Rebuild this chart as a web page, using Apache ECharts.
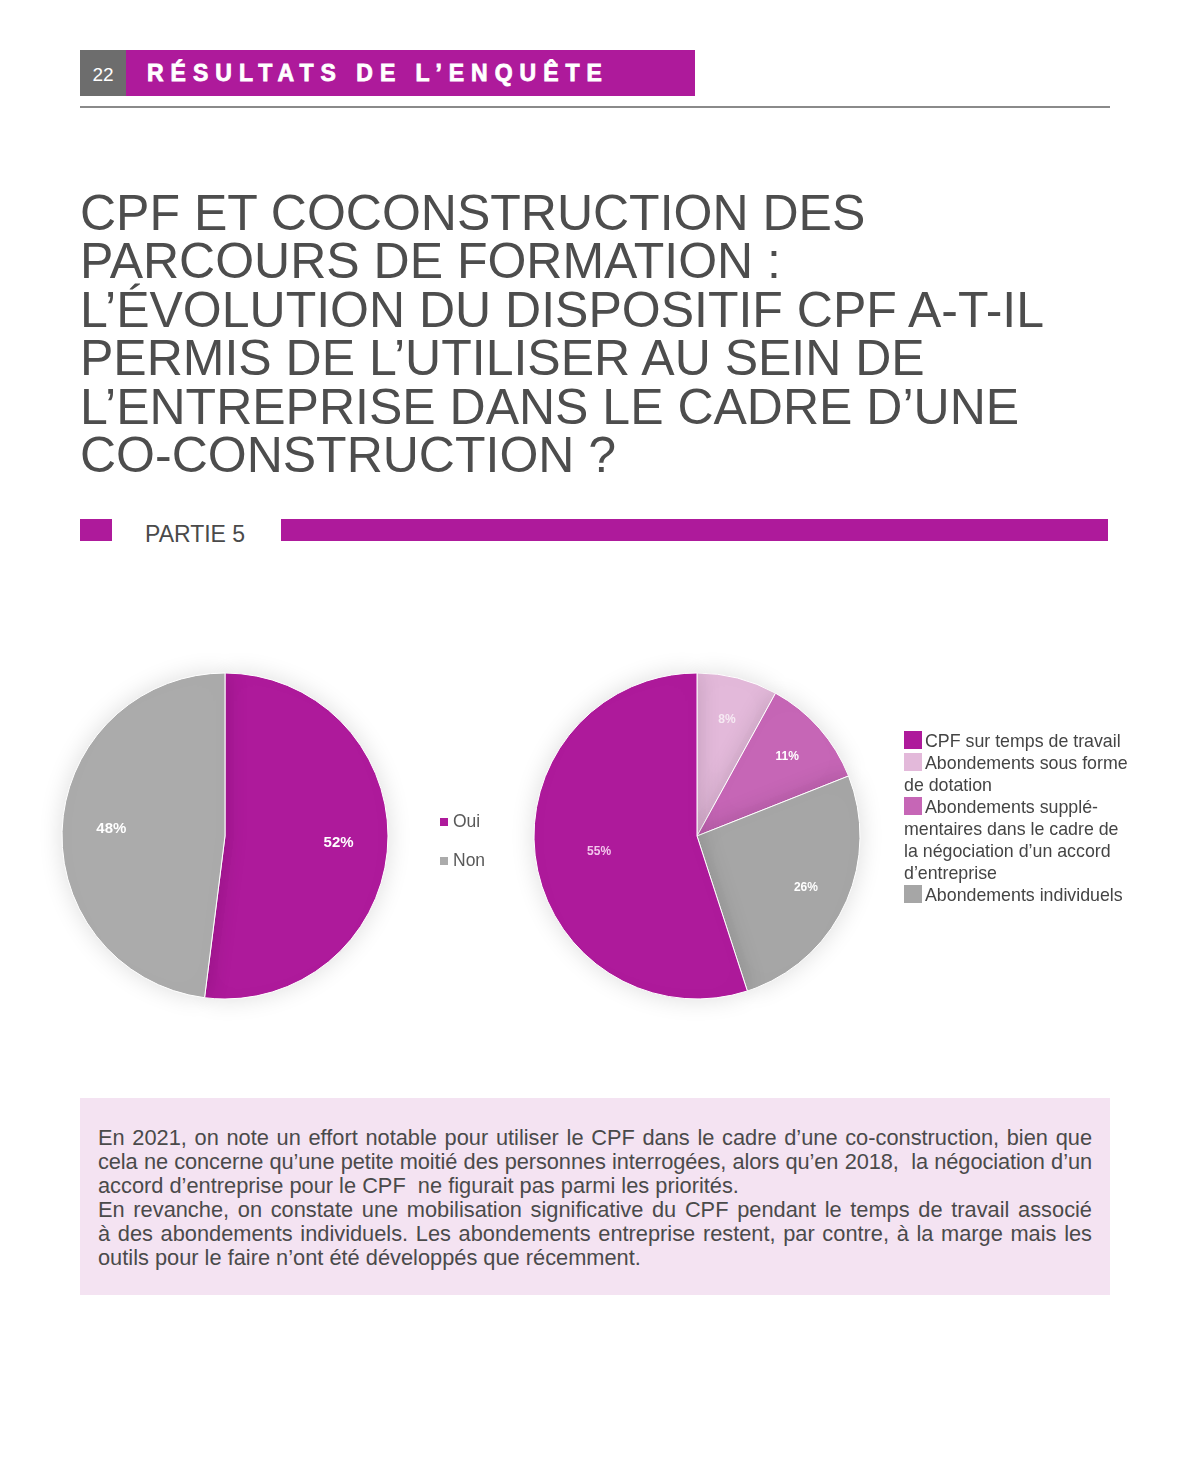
<!DOCTYPE html>
<html><head><meta charset="utf-8">
<script src="https://cdn.jsdelivr.net/npm/echarts@6/dist/echarts.min.js"></script>
<style>
html,body{margin:0;padding:0;background:#fff;}
body{width:1190px;height:1474px;position:relative;overflow:hidden;font-family:"Liberation Sans",Arial,sans-serif;}
.abs{position:absolute;}
#pnum{left:80px;top:50px;width:46px;height:46px;background:#6d6d6d;color:#fff;font-size:19px;line-height:50px;text-align:center;}
#phead{left:126px;top:50px;width:569px;height:46px;background:#AE1A9B;color:#fff;font-weight:bold;font-size:23px;letter-spacing:7px;line-height:47px;padding-left:21px;box-sizing:border-box;-webkit-text-stroke:0.8px #fff;}
#rule{left:80px;top:106px;width:1030px;height:1.5px;background:#8a8a8a;}
#title{left:80px;top:189px;width:1080px;color:#4d4d4d;font-size:50px;line-height:48.4px;}
#sq{left:80px;top:519px;width:32px;height:22px;background:#AE1A9B;}
#partie{left:145px;top:520px;font-size:23px;color:#4a4a4a;line-height:28px;}
#bar{left:281px;top:519px;width:827px;height:22px;background:#AE1A9B;}
#chart{left:0;top:640px;width:1190px;height:400px;}
#leg2{left:904px;top:730px;width:228px;font-size:17.8px;line-height:22px;color:#444;}
#leg2 i{display:inline-block;width:18px;height:18px;vertical-align:-2px;margin-right:3px;}
#box{left:80px;top:1098px;width:1030px;height:197px;background:#F4E3F2;box-sizing:border-box;padding:28px 18px 0 18px;}
#box div{font-size:21.8px;line-height:24px;color:#4a4a4a;white-space:nowrap;}
#box div.j{text-align:justify;text-align-last:justify;}
#box div.t{letter-spacing:-0.08px;}
</style></head>
<body>
<div class="abs" id="pnum">22</div>
<div class="abs" id="phead">RÉSULTATS DE L’ENQUÊTE</div>
<div class="abs" id="rule"></div>
<div class="abs" id="title">CPF ET COCONSTRUCTION DES<br>PARCOURS DE FORMATION :<br>L’ÉVOLUTION DU DISPOSITIF CPF A-T-IL<br>PERMIS DE L’UTILISER AU SEIN DE<br>L’ENTREPRISE DANS LE CADRE D’UNE<br>CO-CONSTRUCTION ?</div>
<div class="abs" id="sq"></div>
<div class="abs" id="partie">PARTIE 5</div>
<div class="abs" id="bar"></div>
<div class="abs" id="chart"></div>
<div class="abs" id="leg2"></div>
<div class="abs" id="box">
<div class="j">En 2021, on note un effort notable pour utiliser le CPF dans le cadre d’une co-construction, bien que</div>
<div class="j t">cela ne concerne qu’une petite moitié des personnes interrogées, alors qu’en 2018,&nbsp; la négociation d’un</div>
<div>accord d’entreprise pour le CPF&nbsp; ne figurait pas parmi les priorités.</div>
<div class="j">En revanche, on constate une mobilisation significative du CPF pendant le temps de travail associé</div>
<div class="j">à des abondements individuels. Les abondements entreprise restent, par contre, à la marge mais les</div>
<div>outils pour le faire n’ont été développés que récemment.</div>
</div>
<script>
// Pie 1
const pie1Categories = ['Oui', 'Non'];
const pie1Values = [52, 48];
const pie1Colors = ['#AE1A9B', '#ABABAB'];
// Pie 2 (clockwise from top)
const pie2Categories = ['Abondements sous forme de dotation', 'Abondements supplé-mentaires dans le cadre de la négociation d’un accord d’entreprise', 'Abondements individuels', 'CPF sur temps de travail'];
const pie2Values = [8, 11, 26, 55];
const pie2Colors = ['#E3B9DA', '#C666B6', '#A6A6A6', '#AE1A9B'];
const pie2LabelColors = ['#f6eaf3', '#ffffff', '#ffffff', '#F3C6EC'];
// Legend order for pie 2
const legend2Order = [3, 0, 1, 2];
const legend2Texts = ['CPF sur temps de travail', 'Abondements sous forme de dotation', 'Abondements supplé-mentaires dans le cadre de la négociation d’un accord d’entreprise', 'Abondements individuels'];

document.getElementById('leg2').innerHTML = legend2Order.map((idx, k) =>
  '<div><i style="background:' + pie2Colors[idx] + '"></i>' + legend2Texts[k] + '</div>').join('');

const chart = echarts.init(document.getElementById('chart'), null, {renderer: 'canvas'});
const R = 163;
const c1 = [225, 196], c2 = [697, 196];
const shadow = {borderColor: '#fff', borderWidth: 1, shadowBlur: 24, shadowColor: 'rgba(0,0,0,0.14)'};
const d1 = pie1Categories.map((n, i) => ({name: n, value: pie1Values[i], itemStyle: {color: pie1Colors[i]}}));
const d2 = pie2Categories.map((n, i) => ({name: n, value: pie2Values[i], itemStyle: {color: pie2Colors[i]}}));
const lab = {show: true, position: 'inside', formatter: '{c}%', fontWeight: 'bold', fontFamily: 'Liberation Sans'};
chart.setOption({
  animation: false,
  legend: {
    data: pie1Categories, orient: 'vertical', left: 440, top: 173, padding: 0, itemWidth: 8, itemHeight: 8, itemGap: 21,
    icon: 'rect', textStyle: {fontSize: 17.5, color: '#595959', fontFamily: 'Liberation Sans'}, itemStyle: {borderWidth: 0}
  },
  series: [
    {type: 'pie', center: c1, radius: [0, R], startAngle: 90, clockwise: true, data: d1, silent: true,
     itemStyle: shadow, label: {show: false}, labelLine: {show: false}},
    {type: 'pie', center: c1, radius: [R * 0.36, R], startAngle: 90, clockwise: true, silent: true, legendHoverLink: false,
     data: d1.map(d => ({name: d.name, value: d.value, itemStyle: {color: 'rgba(0,0,0,0)'}})),
     label: Object.assign({}, lab, {color: '#fff', fontSize: 15}), labelLine: {show: false}},
    {type: 'pie', center: c2, radius: [0, R], startAngle: 90, clockwise: true, data: d2, silent: true,
     itemStyle: shadow, label: {show: false}, labelLine: {show: false}},
    {type: 'pie', center: c2, radius: [R * 0.44, R], startAngle: 90, clockwise: true, silent: true,
     data: d2.map((d, i) => ({name: d.name, value: d.value, itemStyle: {color: 'rgba(0,0,0,0)'}, label: {show: i < 3, color: pie2LabelColors[i]}})),
     label: Object.assign({}, lab, {fontSize: 12}), labelLine: {show: false}},
    {type: 'pie', center: c2, radius: [R * 0.18, R], startAngle: 90, clockwise: true, silent: true,
     data: d2.map((d, i) => ({name: d.name, value: d.value, itemStyle: {color: 'rgba(0,0,0,0)'}, label: {show: i === 3, color: pie2LabelColors[i]}})),
     label: Object.assign({}, lab, {fontSize: 12}), labelLine: {show: false}}
  ]
});
</script>
</body></html>
